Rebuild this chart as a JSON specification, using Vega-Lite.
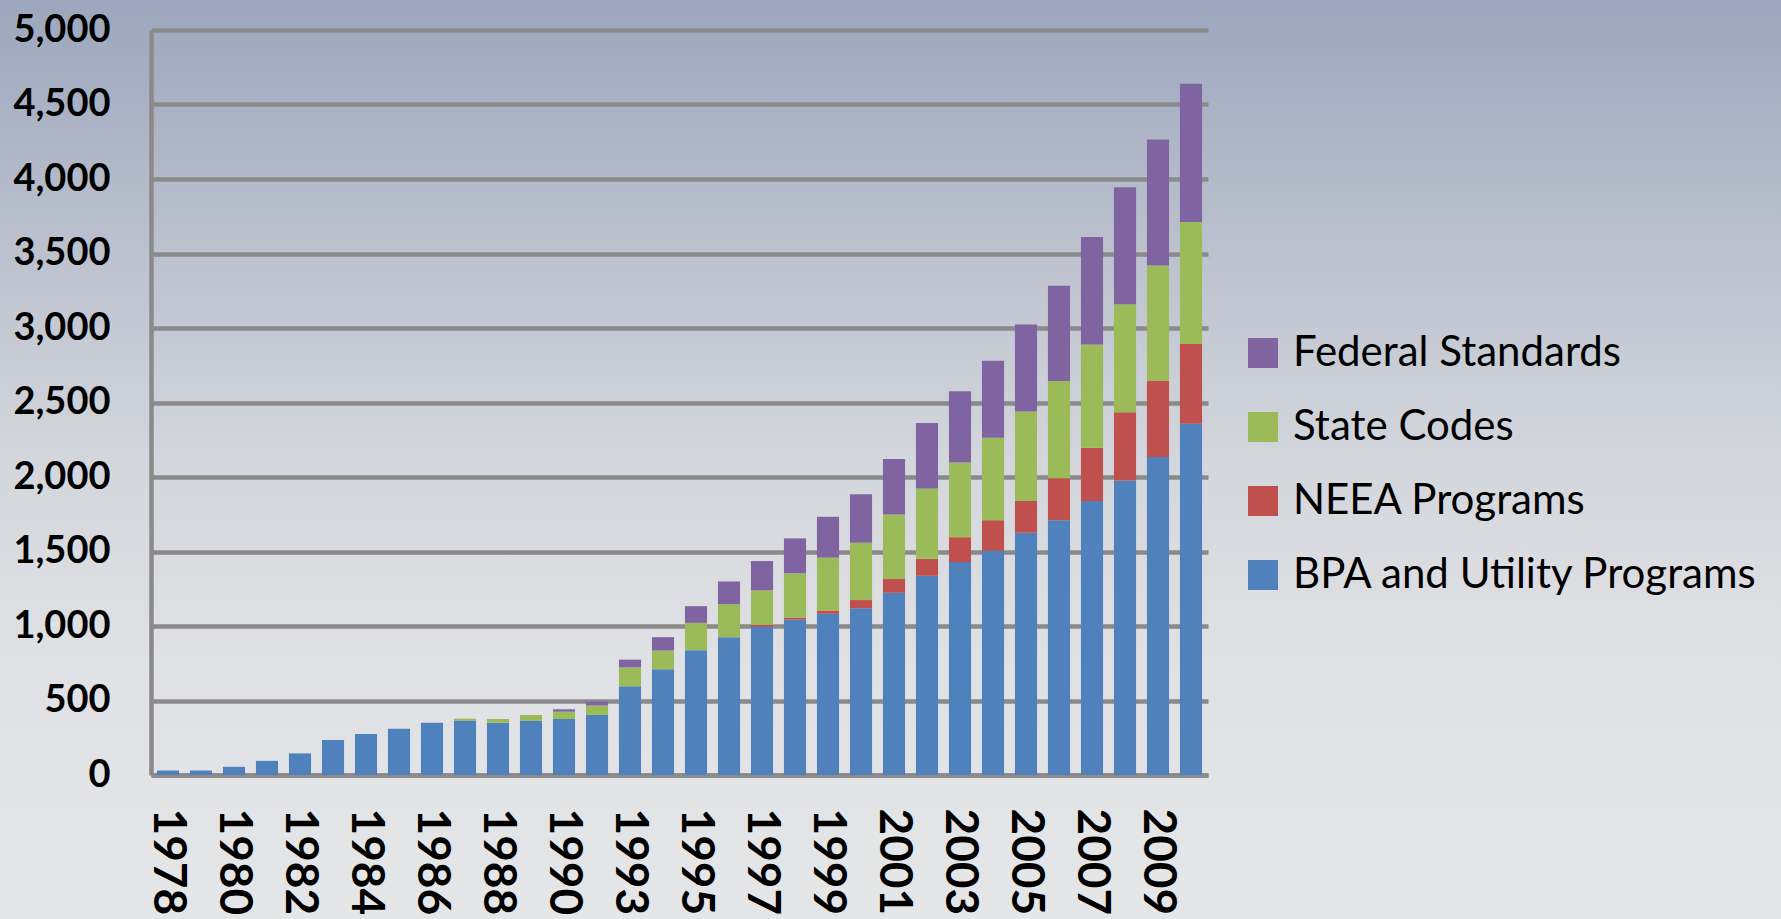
{
  "$schema": "https://vega.github.io/schema/vega-lite/v6.json",
  "width": 1781,
  "height": 919,
  "autosize": {"type": "none"},
  "padding": 0,
  "background": "#e4e5e7",
  "config": {
    "font": "Lato",
    "view": {
      "stroke": null,
      "fill": {
        "gradient": "linear", "x1": 0, "y1": 0, "x2": 0, "y2": 1,
        "stops": [
          {"offset": 0, "color": "#9ca7bd"},
          {"offset": 0.25, "color": "#b9bfcc"},
          {"offset": 0.5, "color": "#d3d6dc"},
          {"offset": 0.72, "color": "#e0e1e4"},
          {"offset": 1, "color": "#e5e6e8"}
        ]
      }
    }
  },
  "datasets": {
    "seriesRank": [
      {"series": "BPA and Utility Programs", "rank": 1},
      {"series": "NEEA Programs", "rank": 2},
      {"series": "State Codes", "rank": 3},
      {"series": "Federal Standards", "rank": 4}
    ],
    "savings": [
      {"year": "1978", "series": "BPA and Utility Programs", "value": 30},
      {"year": "1979", "series": "BPA and Utility Programs", "value": 30},
      {"year": "1980", "series": "BPA and Utility Programs", "value": 55},
      {"year": "1981", "series": "BPA and Utility Programs", "value": 95},
      {"year": "1982", "series": "BPA and Utility Programs", "value": 145},
      {"year": "1983", "series": "BPA and Utility Programs", "value": 235},
      {"year": "1984", "series": "BPA and Utility Programs", "value": 275},
      {"year": "1985", "series": "BPA and Utility Programs", "value": 310},
      {"year": "1986", "series": "BPA and Utility Programs", "value": 350},
      {"year": "1987", "series": "BPA and Utility Programs", "value": 365},
      {"year": "1987", "series": "State Codes", "value": 13},
      {"year": "1988", "series": "BPA and Utility Programs", "value": 351},
      {"year": "1988", "series": "State Codes", "value": 25},
      {"year": "1989", "series": "BPA and Utility Programs", "value": 365},
      {"year": "1989", "series": "State Codes", "value": 38},
      {"year": "1990", "series": "BPA and Utility Programs", "value": 376},
      {"year": "1990", "series": "State Codes", "value": 49},
      {"year": "1990", "series": "Federal Standards", "value": 16},
      {"year": "1991", "series": "BPA and Utility Programs", "value": 403},
      {"year": "1991", "series": "State Codes", "value": 63},
      {"year": "1991", "series": "Federal Standards", "value": 26},
      {"year": "1993", "series": "BPA and Utility Programs", "value": 595},
      {"year": "1993", "series": "State Codes", "value": 127},
      {"year": "1993", "series": "Federal Standards", "value": 52},
      {"year": "1994", "series": "BPA and Utility Programs", "value": 710},
      {"year": "1994", "series": "State Codes", "value": 125},
      {"year": "1994", "series": "Federal Standards", "value": 90},
      {"year": "1995", "series": "BPA and Utility Programs", "value": 838},
      {"year": "1995", "series": "State Codes", "value": 183},
      {"year": "1995", "series": "Federal Standards", "value": 112},
      {"year": "1996", "series": "BPA and Utility Programs", "value": 925},
      {"year": "1996", "series": "State Codes", "value": 222},
      {"year": "1996", "series": "Federal Standards", "value": 152},
      {"year": "1997", "series": "BPA and Utility Programs", "value": 995},
      {"year": "1997", "series": "NEEA Programs", "value": 13},
      {"year": "1997", "series": "State Codes", "value": 231},
      {"year": "1997", "series": "Federal Standards", "value": 197},
      {"year": "1998", "series": "BPA and Utility Programs", "value": 1043},
      {"year": "1998", "series": "NEEA Programs", "value": 14},
      {"year": "1998", "series": "State Codes", "value": 296},
      {"year": "1998", "series": "Federal Standards", "value": 235},
      {"year": "1999", "series": "BPA and Utility Programs", "value": 1082},
      {"year": "1999", "series": "NEEA Programs", "value": 22},
      {"year": "1999", "series": "State Codes", "value": 355},
      {"year": "1999", "series": "Federal Standards", "value": 274},
      {"year": "2000", "series": "BPA and Utility Programs", "value": 1119},
      {"year": "2000", "series": "NEEA Programs", "value": 55},
      {"year": "2000", "series": "State Codes", "value": 384},
      {"year": "2000", "series": "Federal Standards", "value": 326},
      {"year": "2001", "series": "BPA and Utility Programs", "value": 1223},
      {"year": "2001", "series": "NEEA Programs", "value": 92},
      {"year": "2001", "series": "State Codes", "value": 433},
      {"year": "2001", "series": "Federal Standards", "value": 372},
      {"year": "2002", "series": "BPA and Utility Programs", "value": 1337},
      {"year": "2002", "series": "NEEA Programs", "value": 114},
      {"year": "2002", "series": "State Codes", "value": 471},
      {"year": "2002", "series": "Federal Standards", "value": 441},
      {"year": "2003", "series": "BPA and Utility Programs", "value": 1429},
      {"year": "2003", "series": "NEEA Programs", "value": 167},
      {"year": "2003", "series": "State Codes", "value": 501},
      {"year": "2003", "series": "Federal Standards", "value": 479},
      {"year": "2004", "series": "BPA and Utility Programs", "value": 1505},
      {"year": "2004", "series": "NEEA Programs", "value": 205},
      {"year": "2004", "series": "State Codes", "value": 554},
      {"year": "2004", "series": "Federal Standards", "value": 517},
      {"year": "2005", "series": "BPA and Utility Programs", "value": 1626},
      {"year": "2005", "series": "NEEA Programs", "value": 213},
      {"year": "2005", "series": "State Codes", "value": 600},
      {"year": "2005", "series": "Federal Standards", "value": 585},
      {"year": "2006", "series": "BPA and Utility Programs", "value": 1710},
      {"year": "2006", "series": "NEEA Programs", "value": 281},
      {"year": "2006", "series": "State Codes", "value": 653},
      {"year": "2006", "series": "Federal Standards", "value": 639},
      {"year": "2007", "series": "BPA and Utility Programs", "value": 1839},
      {"year": "2007", "series": "NEEA Programs", "value": 357},
      {"year": "2007", "series": "State Codes", "value": 694},
      {"year": "2007", "series": "Federal Standards", "value": 720},
      {"year": "2008", "series": "BPA and Utility Programs", "value": 1976},
      {"year": "2008", "series": "NEEA Programs", "value": 458},
      {"year": "2008", "series": "State Codes", "value": 726},
      {"year": "2008", "series": "Federal Standards", "value": 785},
      {"year": "2009", "series": "BPA and Utility Programs", "value": 2135},
      {"year": "2009", "series": "NEEA Programs", "value": 512},
      {"year": "2009", "series": "State Codes", "value": 773},
      {"year": "2009", "series": "Federal Standards", "value": 845},
      {"year": "2010", "series": "BPA and Utility Programs", "value": 2357},
      {"year": "2010", "series": "NEEA Programs", "value": 536},
      {"year": "2010", "series": "State Codes", "value": 819},
      {"year": "2010", "series": "Federal Standards", "value": 928}
    ]
  },
  "data": {"name": "savings"},
  "transform": [
    {"lookup": "series", "from": {"data": {"name": "seriesRank"}, "key": "series", "fields": ["rank"]}}
  ],
  "mark": {"type": "bar"},
  "encoding": {
    "x": {
      "field": "year",
      "type": "ordinal",
      "scale": {"range": [151, 1208], "paddingInner": 0.33, "paddingOuter": 0.18},
      "axis": {
        "title": null,
        "offset": -144,
        "values": ["1978", "1980", "1982", "1984", "1986", "1988", "1990", "1993", "1995", "1997", "1999", "2001", "2003", "2005", "2007", "2009"],
        "labelAngle": 90,
        "labelFontSize": 46,
        "labelFontWeight": "bold",
        "labelColor": "#000000",
        "labelPadding": 33,
        "labelOverlap": false,
        "ticks": false,
        "grid": false,
        "domainColor": "#8a8a8a",
        "domainWidth": 4.5
      }
    },
    "y": {
      "field": "value",
      "type": "quantitative",
      "stack": "zero",
      "scale": {"domain": [0, 5000], "range": [775, 30], "nice": false},
      "axis": {
        "title": null,
        "offset": -151,
        "values": [0, 500, 1000, 1500, 2000, 2500, 3000, 3500, 4000, 4500, 5000],
        "format": ",d",
        "labelFontSize": 38,
        "labelFontWeight": "bold",
        "labelColor": "#000000",
        "labelPadding": 41,
        "ticks": false,
        "grid": true,
        "gridColor": "#8a8a8a",
        "gridWidth": 4.5,
        "domainColor": "#8a8a8a",
        "domainWidth": 4.5
      }
    },
    "order": {"field": "rank", "type": "quantitative", "sort": "ascending"},
    "color": {
      "field": "series",
      "type": "nominal",
      "sort": ["Federal Standards", "State Codes", "NEEA Programs", "BPA and Utility Programs"],
      "scale": {
        "domain": ["Federal Standards", "State Codes", "NEEA Programs", "BPA and Utility Programs"],
        "range": ["#8064a2", "#9bbb59", "#c0504d", "#4f81bd"]
      },
      "legend": {
        "title": null,
        "orient": "none",
        "legendX": 1242,
        "legendY": 332,
        "padding": 0,
        "symbolType": "square",
        "symbolSize": 900,
        "symbolStrokeWidth": 0,
        "symbolOpacity": 1,
        "labelFontSize": 42,
        "labelColor": "#000000",
        "labelOffset": 9,
        "labelLimit": 600,
        "rowPadding": 32
      }
    }
  }
}
